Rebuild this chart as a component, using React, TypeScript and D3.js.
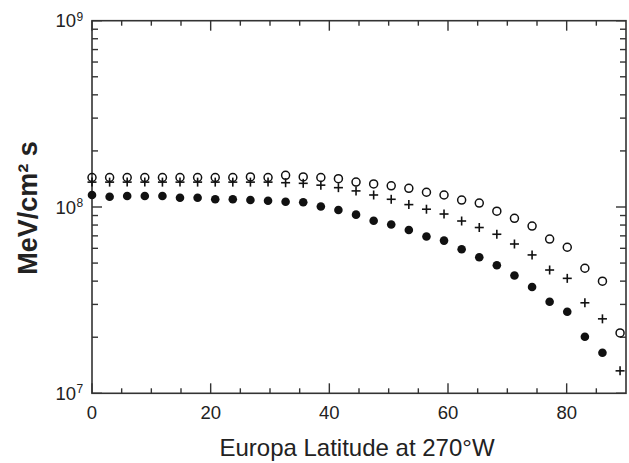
import React from "react";
import * as d3 from "d3";

const latitudes = [0, 2.97, 5.93, 8.9, 11.87, 14.83, 17.8, 20.77, 23.73, 26.7, 29.67, 32.63, 35.6, 38.57, 41.53, 44.5, 47.47, 50.43, 53.4, 56.37, 59.33, 62.3, 65.27, 68.23, 71.2, 74.17, 77.13, 80.1, 83.07, 86.03, 89];

const openCircleValues = [1.44e8, 1.44e8, 1.44e8, 1.44e8, 1.44e8, 1.44e8, 1.44e8, 1.44e8, 1.44e8, 1.45e8, 1.44e8, 1.48e8, 1.45e8, 1.44e8, 1.42e8, 1.36e8, 1.33e8, 1.30e8, 1.26e8, 1.20e8, 1.16e8, 1.09e8, 1.05e8, 9.5e7, 8.7e7, 7.9e7, 6.73e7, 6.08e7, 4.69e7, 4.0e7, 2.11e7];

const crossValues = [1.36e8, 1.36e8, 1.36e8, 1.36e8, 1.36e8, 1.36e8, 1.36e8, 1.36e8, 1.36e8, 1.36e8, 1.36e8, 1.35e8, 1.34e8, 1.31e8, 1.27e8, 1.22e8, 1.16e8, 1.10e8, 1.03e8, 9.73e7, 9.17e7, 8.41e7, 7.76e7, 7.14e7, 6.33e7, 5.53e7, 4.59e7, 4.14e7, 3.06e7, 2.51e7, 1.32e7];

const filledValues = [1.16e8, 1.136e8, 1.146e8, 1.146e8, 1.146e8, 1.122e8, 1.122e8, 1.10e8, 1.10e8, 1.09e8, 1.08e8, 1.068e8, 1.06e8, 1.006e8, 9.63e7, 9.1e7, 8.44e7, 8.05e7, 7.53e7, 6.95e7, 6.6e7, 5.93e7, 5.37e7, 4.87e7, 4.29e7, 3.72e7, 3.1e7, 2.74e7, 2.01e7, 1.65e7];

const xMajorTicks = [0, 20, 40, 60, 80];
const yMajorExponents = [7, 8, 9];

const W = 629;
const H = 463;
const M = { left: 92, right: 626, top: 20.7, bottom: 393.3 };
const FONT = "'Liberation Sans', Arial, Helvetica, sans-serif";
const AX = "#333";
const INK = "#111";

export default function App() {
  const x = d3.scaleLinear().domain([0, 90]).range([M.left, M.right]);
  const y = d3.scaleLog().domain([1e7, 1e9]).range([M.bottom, M.top]);

  const xMinor = d3.range(0, 91, 5).filter((v) => v % 20 !== 0 && v < 90);
  const yMinor: number[] = [];
  [1e7, 1e8].forEach((d) => {
    for (let k = 2; k <= 9; k++) yMinor.push(d * k);
  });

  const majLen = 10;
  const minLen = 6;

  return (
    <svg
      width={W}
      height={H}
      style={{ position: "absolute", left: 0, top: 0, background: "#fff" }}
      fontFamily={FONT}
    >
      <rect x={0} y={0} width={W} height={H} fill="#fff" />
      <rect
        x={M.left}
        y={M.top}
        width={M.right - M.left}
        height={M.bottom - M.top}
        fill="none"
        stroke={AX}
        strokeWidth={1.6}
      />
      {xMajorTicks.map((t) => (
        <g key={"xM" + t}>
          <line x1={x(t)} x2={x(t)} y1={M.bottom} y2={M.bottom - majLen} stroke={AX} strokeWidth={1.4} />
          <line x1={x(t)} x2={x(t)} y1={M.top} y2={M.top + majLen} stroke={AX} strokeWidth={1.4} />
          <text x={x(t)} y={419} textAnchor="middle" fontSize={18.5} fill="#222">
            {t}
          </text>
        </g>
      ))}
      {xMinor.map((t) => (
        <g key={"xm" + t}>
          <line x1={x(t)} x2={x(t)} y1={M.bottom} y2={M.bottom - 5} stroke={AX} strokeWidth={1.4} />
          <line x1={x(t)} x2={x(t)} y1={M.top} y2={M.top + 5} stroke={AX} strokeWidth={1.4} />
        </g>
      ))}
      {yMajorExponents.map((e) => {
        const v = Math.pow(10, e);
        const yy = y(v);
        return (
          <g key={"yM" + e}>
            <line x1={M.left} x2={M.left + majLen} y1={yy} y2={yy} stroke={AX} strokeWidth={1.4} />
            <line x1={M.right} x2={M.right - majLen} y1={yy} y2={yy} stroke={AX} strokeWidth={1.4} />
            <text x={76} y={yy + 6.5} textAnchor="end" fontSize={18.5} fill="#222">
              10
            </text>
            <text x={76.5} y={yy} textAnchor="start" fontSize={12} fill="#222">
              {e}
            </text>
          </g>
        );
      })}
      {yMinor.map((v) => (
        <g key={"ym" + v}>
          <line x1={M.left} x2={M.left + minLen} y1={y(v)} y2={y(v)} stroke={AX} strokeWidth={1.4} />
          <line x1={M.right} x2={M.right - minLen} y1={y(v)} y2={y(v)} stroke={AX} strokeWidth={1.4} />
        </g>
      ))}
      {openCircleValues.map((v, i) => (
        <circle key={"o" + i} cx={x(latitudes[i])} cy={y(v)} r={4} fill="none" stroke={INK} strokeWidth={1.5} />
      ))}
      {crossValues.map((v, i) => {
        const cx = x(latitudes[i]);
        const cy = y(v);
        const s = 4.5;
        return (
          <g key={"c" + i} stroke={INK} strokeWidth={1.6}>
            <line x1={cx - s} x2={cx + s} y1={cy} y2={cy} />
            <line x1={cx} x2={cx} y1={cy - s} y2={cy + s} />
          </g>
        );
      })}
      {filledValues.map((v, i) => (
        <circle key={"f" + i} cx={x(latitudes[i])} cy={y(v)} r={4.3} fill={INK} />
      ))}
      <text x={(M.left + M.right) / 2 - 2} y={456} textAnchor="middle" fontSize={24} fill="#222">
        Europa Latitude at 270°W
      </text>
      <text
        transform={`translate(37, ${(M.top + M.bottom) / 2 + 1}) rotate(-90)`}
        textAnchor="middle"
        fontSize={27}
        fontWeight="bold"
        fill="#222"
      >
        MeV/cm² s
      </text>
    </svg>
  );
}
